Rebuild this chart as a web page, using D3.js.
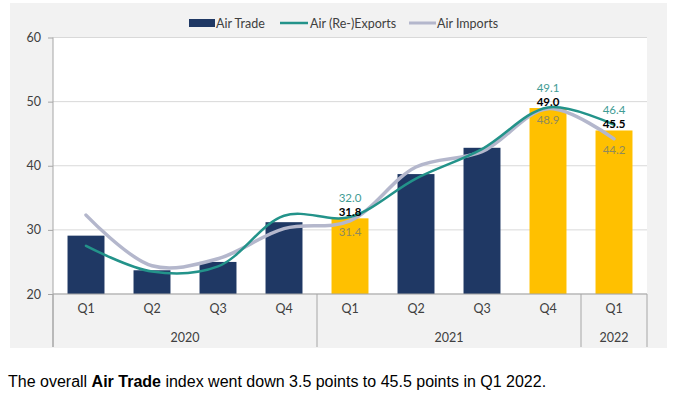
<!DOCTYPE html>
<html>
<head>
<meta charset="utf-8">
<script src="https://cdn.jsdelivr.net/npm/d3@7"></script>
<style>
  body { margin: 0; background: #fff; }
  svg text { font-family: Lato, 'Open Sans', sans-serif; }
</style>
</head>
<body>
<div id="chart"></div>
<script>
// data
const quarters = ['Q1', 'Q2', 'Q3', 'Q4', 'Q1', 'Q2', 'Q3', 'Q4', 'Q1'];
const years = ['2020', '2021', '2022'];
const yearSpans = [[0, 3], [4, 7], [8, 8]];
const airTrade = [29.1, 23.7, 25.0, 31.2, 31.8, 38.7, 42.8, 49.0, 45.5];
const airExports = [27.5, 23.5, 24.3, 32.2, 32.0, 38.0, 42.6, 49.1, 46.4];
const airImports = [32.3, 24.4, 25.5, 30.2, 31.4, 39.8, 42.2, 48.9, 44.2];
const highlighted = [4, 7, 8];
const yTicks = [20, 30, 40, 50, 60];
const seriesNames = ['Air Trade', 'Air (Re-)Exports', 'Air Imports'];

const width = 684;
const height = 396;

const navy = '#1f3864';
const gold = '#ffc000';
const teal = '#23938a';
const lilac = '#b4b7cc';

const svg = d3.select('#chart')
  .append('svg')
  .attr('width', width)
  .attr('height', height)

// chart panel + plot area
svg.append('rect')
   .attr('x', 10).attr('y', 3)
   .attr('width', 657).attr('height', 345)
   .style('fill', '#f2f2f2')

const xScale = d3.scaleBand()
  .domain(d3.range(quarters.length))
  .range([53, 647])
  .paddingInner(0.44)
  .paddingOuter(0.22)

const yScale = d3.scaleLinear()
  .domain([20, 60])
  .range([294, 37.5])

const cx = (i) => xScale(i) + xScale.bandwidth() / 2;

svg.append('rect')
   .attr('x', 53).attr('y', yScale(60))
   .attr('width', 594).attr('height', yScale(20) - yScale(60))
   .style('fill', '#fff')

// gridlines
svg.append('g')
   .selectAll('line')
   .data(yTicks)
   .enter()
   .append('line')
   .attr('x1', 53).attr('x2', 647)
   .attr('y1', (d) => yScale(d)).attr('y2', (d) => yScale(d))
   .style('stroke', '#d9d9d9')

// y axis
const yAxis = d3.axisLeft(yScale).tickValues(yTicks).tickSize(5).tickPadding(7);
const yg = svg.append('g')
   .attr('transform', 'translate(53, 0)')
   .call(yAxis)
yg.select('.domain').remove();
yg.selectAll('line').style('stroke', '#a6a6a6');
yg.selectAll('text').style('font-size', '12.5px').style('fill', '#404040').style('font-family', 'Lato, sans-serif');

svg.append('line')
   .attr('x1', 53).attr('x2', 53)
   .attr('y1', yScale(60)).attr('y2', 347)
   .style('stroke', '#a6a6a6')

// bars
svg.selectAll('.bar')
   .data(airTrade)
   .enter()
   .append('rect')
   .attr('class', 'bar')
   .attr('x', (d, i) => xScale(i))
   .attr('y', (d) => yScale(d))
   .attr('width', xScale.bandwidth())
   .attr('height', (d) => yScale(20) - yScale(d))
   .style('fill', (d, i) => highlighted.includes(i) ? gold : navy)

// category axis
svg.append('line')
   .attr('x1', 53).attr('x2', 647)
   .attr('y1', yScale(20)).attr('y2', yScale(20))
   .style('stroke', '#a6a6a6')

const xAxis = d3.axisBottom(xScale).tickSize(0).tickPadding(10).tickFormat((i) => quarters[i]);
const xg = svg.append('g')
   .attr('transform', 'translate(0, ' + yScale(20) + ')')
   .call(xAxis)
xg.select('.domain').remove();
xg.selectAll('text').style('font-size', '12.5px').style('fill', '#404040').style('font-family', 'Lato, sans-serif');

// year separators and labels
const seps = [0].concat(yearSpans.map((s) => s[1] + 1));
svg.append('g')
   .selectAll('line')
   .data(seps)
   .enter()
   .append('line')
   .attr('x1', (d) => d === quarters.length ? 647 : xScale(d) - xScale.step() * xScale.paddingInner() / 2)
   .attr('x2', (d) => d === quarters.length ? 647 : xScale(d) - xScale.step() * xScale.paddingInner() / 2)
   .attr('y1', yScale(20)).attr('y2', 347)
   .style('stroke', '#a6a6a6')

svg.append('g')
   .selectAll('text')
   .data(years)
   .enter()
   .append('text')
   .text((d) => d)
   .attr('x', (d, i) => (cx(yearSpans[i][0]) + cx(yearSpans[i][1])) / 2)
   .attr('y', 342)
   .attr('text-anchor', 'middle')
   .style('font-size', '12.5px')
   .style('fill', '#404040')

// smoothed lines
const line = d3.line()
  .x((d, i) => cx(i))
  .y((d) => yScale(d))
  .curve(d3.curveCatmullRom)

svg.append('path')
   .datum(airImports)
   .attr('d', line)
   .style('fill', 'none')
   .style('stroke', lilac)
   .style('stroke-width', 3.5)
   .style('stroke-linecap', 'round')

svg.append('path')
   .datum(airExports)
   .attr('d', line)
   .style('fill', 'none')
   .style('stroke', teal)
   .style('stroke-width', 2.5)
   .style('stroke-linecap', 'round')

// data labels
const labels = svg.append('g').attr('text-anchor', 'middle').style('font-size', '11.5px');
highlighted.forEach((i) => {
  const base = yScale(airTrade[i]) - 2;
  labels.append('text')
        .text(airExports[i].toFixed(1))
        .attr('x', cx(i)).attr('y', base - 14)
        .style('fill', '#3f9c94')
  labels.append('text')
        .text(airTrade[i].toFixed(1))
        .attr('x', cx(i)).attr('y', base)
        .style('fill', '#000')
        .style('font-weight', 'bold')
  labels.append('text')
        .text(airImports[i].toFixed(1))
        .attr('x', cx(i)).attr('y', yScale(airImports[i]) + 15)
        .style('fill', '#8f8a5e')
});

// legend
const legend = svg.append('g').style('font-size', '12.5px');
const legendX = [189, 280, 409];
const legendTextX = [216, 310, 437];
legend.append('rect')
      .attr('x', legendX[0]).attr('y', 19)
      .attr('width', 26).attr('height', 8)
      .style('fill', navy)
legend.append('line')
      .attr('x1', legendX[1]).attr('x2', legendX[1] + 28)
      .attr('y1', 23).attr('y2', 23)
      .style('stroke', teal).style('stroke-width', 2.5)
legend.append('line')
      .attr('x1', legendX[2]).attr('x2', legendX[2] + 27)
      .attr('y1', 23).attr('y2', 23)
      .style('stroke', lilac).style('stroke-width', 3)
seriesNames.forEach((name, i) => {
  legend.append('text')
        .text(name)
        .attr('x', legendTextX[i]).attr('y', 27.5)
        .style('fill', '#404040')
});

// caption
const caption = svg.append('text')
   .attr('x', 8).attr('y', 387)
   .style('font-family', "'Liberation Sans', Arial, sans-serif")
   .style('font-size', '16px')
   .style('fill', '#000')
caption.append('tspan').text('The overall ');
caption.append('tspan').text('Air Trade').style('font-weight', 'bold');
caption.append('tspan').text(' index went down 3.5 points to 45.5 points in Q1 2022.');
</script>
</body>
</html>
